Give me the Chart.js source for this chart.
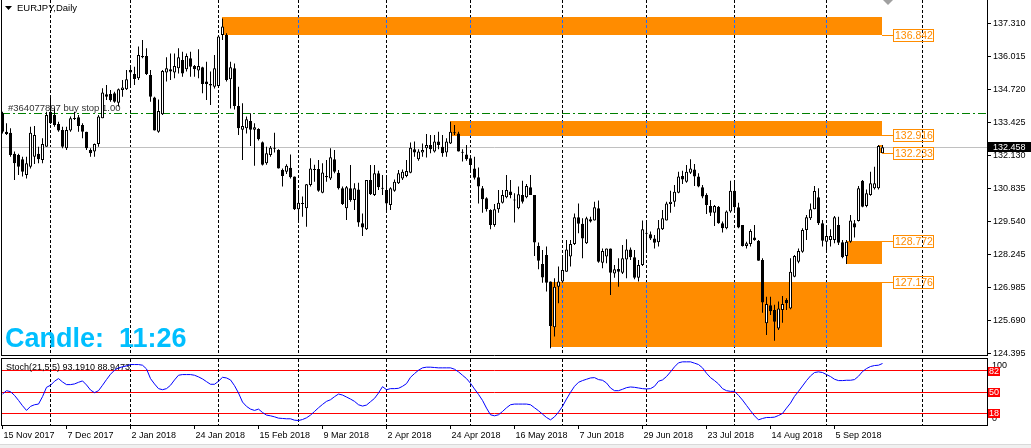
<!DOCTYPE html>
<html>
<head>
<meta charset="utf-8">
<title>EURJPY,Daily</title>
<script src="https://cdn.jsdelivr.net/npm/chart.js@4.4.1/dist/chart.umd.min.js"></script>
<style>
  html, body { margin: 0; padding: 0; background: #fff; }
  body { width: 1031px; height: 448px; position: relative; overflow: hidden; }
  #priceChart { position: absolute; left: 0; top: 0; }
  #stochChart { position: absolute; left: 0; top: 358px; }
  .frame-bottom { position: absolute; left: 0; top: 444px; width: 1031px; height: 4px; background: #f0f0f0; border-top: 1px solid #d9d9d9; }
</style>
</head>
<body>
<canvas id="priceChart" width="1031" height="358"></canvas>
<canvas id="stochChart" width="1031" height="86"></canvas>
<div class="frame-bottom"></div>
<script>
/* global Chart */

// EURJPY daily bars, 15 Nov 2017 .. 21 Sep 2018
const firstDay = '2017-11-15'
const holidays = ['2017-12-25', '2018-01-01']

const openPrices = [
  133.79, 133.07, 133.03, 132.20, 132.16, 131.99, 131.37, 131.70, 132.09, 132.20,
  131.96, 132.48, 133.85, 133.72, 133.37, 133.13, 132.42, 133.11, 133.59, 133.63,
  133.33, 133.07, 132.35, 132.29, 132.59, 133.59, 134.53, 134.54, 134.57, 134.20,
  134.70, 134.73, 135.48, 135.33, 135.16, 136.03, 136.03, 135.29, 134.41, 133.07,
  133.75, 135.38, 135.51, 135.38, 135.55, 135.87, 135.51, 135.94, 135.64, 135.46,
  135.59, 135.03, 134.93, 134.83, 134.86, 136.85, 136.85, 135.12, 135.55, 134.07,
  133.14, 133.20, 133.49, 133.14, 133.17, 132.65, 131.83, 132.16, 132.40, 132.35,
  131.57, 131.50, 131.66, 131.31, 130.03, 130.26, 130.07, 130.98, 131.61, 131.61,
  130.68, 131.33, 131.24, 131.99, 131.46, 130.85, 130.07, 130.85, 130.39, 130.81,
  129.48, 129.25, 131.18, 130.59, 131.44, 130.85, 130.79, 130.20, 130.76, 131.05,
  131.24, 131.33, 131.46, 132.38, 131.99, 132.25, 132.42, 132.55, 132.29, 132.68,
  132.48, 132.25, 132.61, 133.03, 133.00, 132.26, 132.18, 132.03, 131.63, 131.28,
  130.85, 130.46, 130.00, 129.42, 130.03, 130.29, 130.50, 130.73, 130.39, 130.07,
  130.59, 130.50, 130.89, 130.59, 128.59, 127.89, 128.24, 127.20, 125.41, 127.00,
  127.20, 127.59, 128.18, 128.67, 129.72, 129.46, 128.70, 129.64, 129.59, 130.07,
  127.94, 128.18, 128.50, 127.52, 127.69, 127.55, 128.07, 128.46, 128.15, 127.35,
  127.85, 129.09, 129.05, 128.89, 128.74, 129.25, 129.59, 130.24, 130.33, 130.68,
  131.33, 131.11, 131.46, 131.59, 131.31, 130.89, 130.59, 130.16, 129.90, 130.13,
  129.48, 129.29, 129.94, 130.76, 130.11, 129.42, 128.59, 128.67, 128.93, 128.80,
  128.05, 125.57, 126.28, 126.09, 125.37, 126.09, 126.48, 126.15, 127.39, 127.98,
  128.37, 129.22, 129.68, 130.03, 130.50, 129.48, 128.76, 128.83, 128.83, 129.42,
  128.74, 128.20, 128.76, 129.48, 129.57, 131.15, 130.16, 130.59, 130.85, 130.85,
  132.22
]
const highPrices = [
  133.85, 133.40, 133.20, 132.29, 132.20, 132.09, 132.09, 133.26, 133.29, 132.48,
  132.81, 133.85, 134.44, 133.98, 133.46, 133.26, 133.26, 133.66, 133.85, 133.72,
  133.40, 133.07, 132.42, 132.61, 133.72, 134.77, 134.90, 134.70, 134.63, 134.76,
  135.09, 135.48, 135.61, 135.61, 136.40, 136.66, 136.33, 135.48, 134.44, 134.33,
  135.48, 135.98, 136.13, 136.13, 136.33, 136.20, 136.13, 136.20, 135.68, 136.29,
  135.61, 135.81, 135.42, 136.07, 136.79, 137.50, 136.92, 135.81, 135.74, 134.83,
  134.18, 133.66, 133.79, 133.40, 133.20, 132.68, 132.48, 132.51, 133.03, 132.38,
  131.63, 131.79, 132.18, 131.31, 130.79, 130.53, 131.02, 132.03, 131.77, 131.96,
  131.83, 131.96, 132.42, 132.35, 131.57, 130.92, 130.94, 131.76, 131.05, 131.07,
  129.87, 131.18, 131.76, 131.76, 131.54, 131.37, 131.37, 130.89, 131.20, 131.57,
  131.59, 131.96, 132.64, 132.68, 132.38, 132.61, 132.98, 132.94, 132.94, 133.07,
  132.94, 132.81, 133.46, 133.33, 133.07, 132.38, 132.55, 132.16, 132.09, 131.67,
  130.94, 130.50, 130.03, 130.24, 130.79, 130.79, 131.37, 131.18, 130.66, 130.92,
  131.15, 131.02, 131.37, 130.59, 128.73, 128.44, 128.57, 127.20, 127.33, 127.79,
  128.18, 128.83, 128.83, 129.87, 130.26, 129.68, 129.74, 129.74, 130.33, 130.37,
  128.50, 128.50, 128.50, 127.85, 128.11, 128.63, 128.86, 128.54, 128.44, 128.05,
  129.59, 129.61, 129.16, 129.02, 129.61, 130.00, 130.33, 130.76, 130.98, 131.50,
  131.54, 131.76, 131.99, 131.80, 131.44, 130.98, 130.66, 130.39, 130.20, 130.16,
  129.55, 129.98, 131.15, 131.18, 130.29, 129.42, 128.76, 129.25, 129.42, 128.83,
  128.11, 126.61, 126.61, 126.29, 126.42, 126.64, 126.55, 128.11, 128.24, 128.50,
  129.29, 129.81, 130.26, 130.94, 130.85, 129.61, 129.42, 129.25, 129.77, 129.74,
  128.83, 128.83, 129.81, 129.61, 130.94, 131.18, 130.81, 131.50, 131.70, 132.55,
  132.55
]
const lowPrices = [
  133.00, 132.94, 132.09, 131.18, 131.37, 131.31, 131.24, 131.63, 131.80, 131.83,
  131.83, 132.48, 133.37, 133.26, 133.07, 132.42, 132.35, 133.07, 133.53, 133.07,
  132.81, 132.35, 132.09, 132.09, 132.48, 133.59, 134.31, 134.24, 134.20, 134.05,
  134.44, 134.70, 134.83, 134.90, 135.09, 135.94, 135.29, 134.24, 133.11, 133.03,
  133.72, 135.03, 135.09, 135.16, 135.35, 135.22, 135.42, 135.22, 135.22, 135.16,
  134.57, 134.31, 134.11, 134.76, 134.83, 136.66, 135.03, 133.98, 133.94, 132.94,
  131.96, 133.00, 132.51, 131.73, 132.72, 131.74, 131.77, 132.09, 132.25, 131.63,
  130.92, 131.41, 131.24, 130.00, 129.55, 129.74, 129.35, 130.92, 131.11, 130.72,
  130.66, 131.11, 131.18, 131.44, 130.81, 130.20, 129.61, 130.33, 130.00, 129.35,
  128.99, 129.22, 130.59, 130.55, 130.79, 130.59, 129.94, 130.00, 130.72, 131.02,
  131.18, 131.28, 131.44, 132.09, 131.93, 132.09, 132.06, 132.22, 132.25, 132.38,
  132.09, 132.09, 132.59, 132.94, 132.29, 131.90, 131.93, 131.57, 131.20, 130.26,
  129.90, 129.94, 129.25, 129.35, 129.90, 130.26, 130.46, 130.46, 129.51, 130.03,
  130.26, 130.46, 130.59, 128.20, 127.68, 127.16, 126.81, 124.59, 125.05, 126.35,
  127.16, 127.59, 127.79, 128.63, 129.09, 128.11, 128.67, 129.51, 129.59, 127.94,
  127.72, 127.92, 126.68, 127.35, 127.00, 127.50, 127.33, 128.05, 127.29, 127.20,
  127.81, 128.44, 128.83, 128.50, 128.57, 129.22, 129.59, 129.90, 130.13, 130.66,
  131.02, 131.07, 131.41, 130.94, 130.89, 130.46, 129.85, 129.77, 129.38, 129.46,
  129.12, 129.25, 129.90, 129.98, 129.29, 128.57, 128.50, 128.57, 128.80, 128.02,
  125.98, 125.11, 125.89, 124.89, 125.31, 125.59, 126.09, 126.12, 127.37, 127.92,
  128.33, 128.83, 129.61, 130.03, 129.42, 128.57, 128.40, 128.57, 128.70, 128.63,
  128.11, 127.89, 128.72, 128.93, 129.55, 130.11, 130.11, 130.56, 130.81, 130.81,
  132.20
]
const closePrices = [
  133.07, 132.98, 132.16, 131.83, 131.70, 131.50, 131.83, 133.03, 132.94, 131.99,
  132.59, 133.72, 133.40, 133.33, 133.11, 132.48, 133.13, 133.59, 133.56, 133.29,
  133.07, 132.42, 132.22, 132.59, 133.66, 134.60, 134.44, 134.30, 134.24, 134.73,
  134.80, 135.12, 135.38, 135.13, 136.07, 135.98, 135.33, 134.44, 133.11, 133.88,
  135.44, 135.55, 135.42, 135.64, 135.98, 135.35, 136.03, 135.61, 135.51, 135.64,
  134.93, 134.93, 134.88, 135.55, 136.79, 137.18, 135.09, 135.59, 134.07, 133.20,
  133.29, 133.55, 133.14, 133.24, 132.77, 131.77, 132.22, 132.44, 132.42, 131.63,
  131.33, 131.73, 131.28, 130.03, 130.29, 130.24, 131.01, 131.63, 131.57, 130.76,
  131.47, 131.28, 132.07, 131.50, 130.85, 130.24, 130.89, 130.39, 130.85, 129.51,
  129.32, 131.18, 130.62, 131.44, 130.89, 130.83, 130.26, 130.85, 131.11, 131.44,
  131.50, 131.53, 132.44, 132.25, 132.29, 132.35, 132.55, 132.38, 132.68, 132.55,
  132.22, 132.68, 133.07, 133.01, 132.29, 132.24, 131.99, 131.76, 131.27, 130.92,
  130.42, 130.03, 129.42, 130.03, 130.29, 130.59, 130.79, 130.59, 130.37, 130.62,
  130.33, 130.94, 130.59, 128.73, 128.02, 127.36, 127.16, 125.46, 127.00, 127.20,
  127.65, 128.46, 128.67, 129.72, 129.46, 128.89, 129.68, 129.55, 130.11, 127.98,
  128.40, 128.50, 127.55, 127.68, 127.59, 128.11, 128.46, 128.15, 127.35, 127.85,
  129.25, 129.07, 128.89, 128.72, 129.29, 129.68, 130.26, 130.33, 130.72, 131.31,
  131.20, 131.50, 131.63, 131.31, 130.92, 130.53, 130.20, 129.90, 130.16, 129.48,
  129.29, 129.94, 130.76, 130.11, 129.32, 128.59, 128.70, 129.18, 128.83, 128.02,
  126.38, 126.32, 126.04, 125.63, 126.15, 126.32, 126.35, 127.59, 128.20, 128.40,
  129.22, 129.72, 130.03, 130.75, 129.48, 128.80, 128.99, 128.99, 129.72, 128.72,
  128.15, 128.76, 129.59, 129.32, 130.85, 130.13, 130.66, 131.05, 131.05, 132.51,
  132.458
]
// Stoch(21,5,5) main line
const stochMain = [
  46.9, 52.0, 50.5, 44.9, 37.3, 29.2, 22.1, 28.2, 30.7, 31.7,
  42.9, 57.1, 60.2, 66.3, 70.3, 65.2, 61.2, 61.2, 62.2, 64.7,
  66.8, 60.7, 53.0, 49.0, 52.0, 60.2, 68.8, 76.9, 83.0, 86.6,
  88.1, 89.6, 91.6, 91.6, 91.6, 90.6, 85.0, 70.3, 62.2, 55.1,
  53.5, 55.1, 60.2, 68.3, 75.4, 76.4, 76.4, 76.4, 75.4, 72.9,
  69.8, 65.7, 61.7, 61.7, 66.3, 72.3, 71.3, 68.3, 59.6, 48.5,
  34.8, 28.2, 24.1, 22.1, 24.1, 19.0, 15.0, 13.9, 12.4, 10.4,
  9.9, 9.4, 9.4, 7.3, 6.8, 8.3, 10.9, 15.0, 20.5, 26.1,
  31.2, 35.8, 38.3, 42.9, 46.9, 45.4, 42.4, 39.3, 35.8, 30.7,
  28.7, 30.2, 35.3, 40.3, 48.5, 58.1, 53.5, 55.1, 55.1, 55.6,
  58.6, 62.7, 72.3, 77.9, 83.0, 86.6, 87.6, 87.6, 87.1, 86.6,
  86.6, 86.6, 86.6, 84.5, 80.5, 75.4, 70.3, 63.2, 54.6, 46.4,
  37.3, 25.6, 15.5, 13.9, 15.5, 20.5, 26.1, 30.7, 31.7, 31.7,
  31.7, 31.7, 30.7, 26.1, 21.6, 16.5, 11.4, 7.8, 12.4, 19.5,
  28.2, 39.3, 49.5, 58.6, 64.7, 67.3, 69.3, 71.3, 71.8, 68.8,
  67.8, 63.7, 56.1, 52.0, 52.0, 54.1, 56.6, 57.6, 57.1, 56.1,
  55.1, 54.6, 55.1, 58.6, 66.3, 68.3, 73.4, 80.5, 88.1, 94.2,
  95.7, 95.7, 95.7, 93.7, 91.6, 86.6, 78.4, 71.8, 67.3, 62.2,
  55.1, 52.0, 51.0, 51.0, 44.9, 37.8, 29.7, 21.6, 13.9, 7.8,
  9.9, 11.4, 11.4, 11.9, 14.4, 17.5, 25.6, 33.2, 43.4, 51.0,
  59.1, 67.3, 74.4, 79.5, 80.5, 79.5, 76.4, 73.4, 69.3, 67.3,
  67.3, 67.8, 67.8, 68.8, 73.9, 81.0, 85.5, 88.6, 90.1, 90.6,
  93.2
]

const priceTicks = [137.310, 136.015, 134.720, 133.425, 132.130, 130.835, 129.540, 128.245, 126.985, 125.690, 124.395]
const stochLevels = [18, 50, 82]
const dateLabelBars = [0, 16, 32, 48, 64, 80, 96, 112, 128, 144, 160, 176, 192, 208]
const monthGridBars = [12, 32, 54, 74, 96, 117, 140, 161, 183, 206, 230]

// supply / demand rectangles: first bar, top and bottom price
const zoneFrom = [55, 112, 211, 137, 219]
const zoneTop = [137.56, 133.49, 128.772, 127.176, 132.55]
const zoneBottom = [136.842, 132.916, 127.89, 124.65, 132.233]
const levelLabels = [136.842, 132.916, 132.233, 128.772, 127.176]
const bidPrice = 132.458
const orderPrice = 133.79

const lastBar = closePrices.length - 1
const X_MIN = -0.125
const X_MAX = 246.125
const MONTHS = ['Jan', 'Feb', 'Mar', 'Apr', 'May', 'Jun', 'Jul', 'Aug', 'Sep', 'Oct', 'Nov', 'Dec']
const FONT = '"Liberation Sans", Arial, sans-serif'

function tradingDays (start, count) {
  const days = []
  const d = new Date(start + 'T00:00:00Z')
  while (days.length < count) {
    const iso = d.toISOString().slice(0, 10)
    const wd = d.getUTCDay()
    if (wd !== 0 && wd !== 6 && !holidays.includes(iso)) days.push(new Date(d))
    d.setUTCDate(d.getUTCDate() + 1)
  }
  return days
}
const barDates = tradingDays(firstDay, closePrices.length)
const fmtDate = d => d.getUTCDate() + ' ' + MONTHS[d.getUTCMonth()] + ' ' + d.getUTCFullYear()

const crisp = v => Math.floor(v) + 0.5
function strokeLine (ctx, x1, y1, x2, y2) {
  ctx.beginPath()
  ctx.moveTo(x1, y1)
  ctx.lineTo(x2, y2)
  ctx.stroke()
}

Chart.defaults.font.family = FONT
Chart.defaults.font.size = 9
Chart.defaults.color = '#000'

const priceDecor = {
  id: 'priceDecor',
  beforeDatasetsDraw (chart) {
    const { ctx, chartArea: area, scales: { x, y } } = chart
    const right = Math.floor(x.getPixelForValue(lastBar))
    ctx.save()
    ctx.fillStyle = '#ff8c00'
    const boxes = zoneFrom.map((from, k) => {
      const left = Math.floor(x.getPixelForValue(from))
      const top = Math.round(y.getPixelForValue(zoneTop[k]))
      const bottom = Math.round(y.getPixelForValue(zoneBottom[k]))
      ctx.fillRect(left, top, right - left, bottom - top)
      return { left, top, bottom }
    })

    // month separators, blue where they cross a rectangle
    ctx.lineWidth = 1
    ctx.setLineDash([3, 2])
    monthGridBars.forEach(bar => {
      const px = crisp(x.getPixelForValue(bar))
      ctx.strokeStyle = '#000'
      ctx.lineDashOffset = 0
      strokeLine(ctx, px, area.top, px, area.bottom)
      boxes.forEach(b => {
        if (px > b.left && px < right) {
          ctx.strokeStyle = '#1a6cff'
          ctx.lineDashOffset = b.top - area.top
          strokeLine(ctx, px, b.top, px, b.bottom)
        }
      })
    })
    ctx.lineDashOffset = 0

    // bid line
    ctx.setLineDash([])
    ctx.strokeStyle = '#c0c0c0'
    const bidY = crisp(y.getPixelForValue(bidPrice))
    strokeLine(ctx, area.left, bidY, area.right, bidY)

    // pending order
    const ordY = crisp(y.getPixelForValue(orderPrice))
    ctx.strokeStyle = '#008000'
    ctx.setLineDash([8, 3, 2, 3])
    strokeLine(ctx, area.left, ordY, area.right, ordY)
    ctx.setLineDash([])
    ctx.fillStyle = '#333'
    ctx.font = '9.5px ' + FONT
    ctx.textBaseline = 'middle'
    ctx.fillText('#364077897 buy stop 1.00', 8, ordY - 5)
    ctx.restore()
  },
  afterDatasetsDraw (chart) {
    const { ctx, chartArea: area, scales: { x, y } } = chart
    const right = Math.floor(x.getPixelForValue(lastBar))
    ctx.save()
    ctx.strokeStyle = '#000'
    ctx.lineWidth = 1
    strokeLine(ctx, 1.5, 0, 1.5, area.bottom + 1)
    strokeLine(ctx, area.right + 0.5, 0, area.right + 0.5, area.bottom + 1)
    strokeLine(ctx, 1, area.bottom + 0.5, area.right + 1, area.bottom + 0.5)

    // level price tags
    ctx.font = '10.5px ' + FONT
    ctx.textBaseline = 'middle'
    levelLabels.forEach(v => {
      const yc = crisp(y.getPixelForValue(v))
      ctx.strokeStyle = '#ff8c00'
      strokeLine(ctx, right, yc, 893, yc)
      ctx.strokeRect(893.5, yc - 6, 40, 12)
      ctx.fillStyle = '#ff8c00'
      ctx.fillText(v.toFixed(3), 895, yc + 0.5)
    })

    // bid tag on the price scale
    const by = Math.round(y.getPixelForValue(bidPrice))
    ctx.fillStyle = '#000'
    ctx.fillRect(area.right + 1, by - 5, 1031 - area.right - 1, 10)
    ctx.fillStyle = '#fff'
    ctx.font = '9px ' + FONT
    ctx.fillText(bidPrice.toFixed(3), area.right + 6, by + 0.5)

    // title
    ctx.fillStyle = '#000'
    ctx.beginPath()
    ctx.moveTo(5, 6)
    ctx.lineTo(12, 6)
    ctx.lineTo(8.5, 10)
    ctx.closePath()
    ctx.fill()
    ctx.font = '9.5px ' + FONT
    ctx.fillText('EURJPY,Daily', 17, 8.5)

    // chart shift marker
    ctx.fillStyle = '#a0a0a0'
    ctx.beginPath()
    ctx.moveTo(883, 0)
    ctx.lineTo(893, 0)
    ctx.lineTo(888, 5)
    ctx.closePath()
    ctx.fill()

    // candle timer
    ctx.fillStyle = '#00bfff'
    ctx.font = 'bold 27px ' + FONT
    ctx.textBaseline = 'alphabetic'
    ctx.fillText('Candle:  11:26', 5, 347)
    ctx.restore()
  }
}

const stochDecor = {
  id: 'stochDecor',
  beforeDatasetsDraw (chart) {
    const { ctx, chartArea: area, scales: { x } } = chart
    ctx.save()
    ctx.lineWidth = 1
    ctx.strokeStyle = '#000'
    ctx.setLineDash([3, 2])
    monthGridBars.forEach(bar => {
      const px = crisp(x.getPixelForValue(bar))
      strokeLine(ctx, px, area.top, px, area.bottom)
    })
    ctx.setLineDash([])
    ctx.fillStyle = '#000'
    ctx.font = '9px ' + FONT
    ctx.textBaseline = 'middle'
    ctx.fillText('Stoch(21,5,5) 93.1910 88.9473', 6, 9.7)
    ctx.restore()
  },
  afterDatasetsDraw (chart) {
    const { ctx, chartArea: area, scales: { y } } = chart
    ctx.save()
    ctx.strokeStyle = '#000'
    ctx.lineWidth = 1
    ctx.strokeRect(1.5, 0.5, area.right - 1, area.bottom)
    ctx.fillStyle = '#000'
    ctx.font = '9px ' + FONT
    ctx.textBaseline = 'middle'
    ctx.fillText('100', area.right + 5, 7.5)
    ctx.fillText('0', area.right + 5, 60.3)
    stochLevels.forEach(v => {
      const yc = Math.round(y.getPixelForValue(v))
      ctx.fillStyle = '#ff0000'
      ctx.fillRect(area.right + 1, yc - 4, 12, 9)
      ctx.fillStyle = '#fff'
      ctx.textAlign = 'center'
      ctx.fillText(String(v), area.right + 7, yc + 0.5)
    })
    ctx.restore()
  }
}

// eslint-disable-next-line no-unused-vars
const priceChart = new Chart(document.getElementById('priceChart'), {
  type: 'bar',
  data: {
    datasets: [
      {
        label: 'body',
        data: closePrices.map((c, i) => ({ x: i, y: [openPrices[i], c] })),
        backgroundColor: (ctx) => {
          const i = ctx.dataIndex
          if (i === undefined) return '#000'
          return closePrices[i] >= openPrices[i] ? '#ffffff' : '#000000'
        },
        borderColor: '#000',
        borderWidth: 1,
        borderSkipped: false,
        barThickness: 3,
        minBarLength: 1,
        grouped: false,
        inflateAmount: 0,
        order: 0
      },
      {
        label: 'wick',
        data: highPrices.map((h, i) => ({ x: i, y: [lowPrices[i], h] })),
        backgroundColor: '#000',
        borderWidth: 0,
        barThickness: 1,
        grouped: false,
        inflateAmount: 0,
        order: 1
      }
    ]
  },
  options: {
    responsive: false,
    animation: false,
    devicePixelRatio: 1,
    events: [],
    layout: { autoPadding: false, padding: { left: 2, top: 0, right: 0, bottom: 3 } },
    plugins: { legend: { display: false }, tooltip: { enabled: false } },
    scales: {
      x: { type: 'linear', min: X_MIN, max: X_MAX, offset: false, display: false },
      y: {
        position: 'right',
        min: 124.328,
        max: 138.222,
        afterBuildTicks: (s) => { s.ticks = priceTicks.map(v => ({ value: v })) },
        afterFit: (s) => {
          s.width = 44
          s.paddingTop = 0
          s.paddingBottom = 0
          s.paddingLeft = 0
          s.paddingRight = 0
        },
        ticks: { padding: 2, color: '#000', font: { size: 9 }, callback: v => Number(v).toFixed(3) },
        grid: { drawOnChartArea: false, drawTicks: true, tickLength: 4, color: '#000' },
        border: { display: false }
      }
    }
  },
  plugins: [priceDecor]
})

// eslint-disable-next-line no-unused-vars
const stochChart = new Chart(document.getElementById('stochChart'), {
  type: 'line',
  data: {
    datasets: [
      {
        label: 'Stoch',
        data: stochMain.map((v, i) => ({ x: i, y: v })),
        borderColor: '#0000ff',
        borderWidth: 1,
        pointRadius: 0,
        tension: 0,
        fill: false
      }
    ]
  },
  options: {
    responsive: false,
    animation: false,
    devicePixelRatio: 1,
    events: [],
    layout: { autoPadding: false, padding: { left: 2, top: 1, right: 0, bottom: 0 } },
    plugins: { legend: { display: false }, tooltip: { enabled: false } },
    scales: {
      x: {
        type: 'linear',
        min: X_MIN,
        max: X_MAX,
        offset: false,
        afterBuildTicks: (s) => { s.ticks = dateLabelBars.map(v => ({ value: v })) },
        afterFit: (s) => {
          s.height = 19
          s.paddingLeft = 0
          s.paddingRight = 0
          s.paddingTop = 0
          s.paddingBottom = 0
        },
        ticks: {
          autoSkip: false,
          maxRotation: 0,
          minRotation: 0,
          align: 'start',
          labelOffset: 1,
          padding: 1,
          color: '#000',
          font: { size: 9 },
          callback: v => fmtDate(barDates[v])
        },
        grid: { drawOnChartArea: false, drawTicks: true, tickLength: 4, color: '#000' },
        border: { display: false }
      },
      y: {
        position: 'right',
        min: 0,
        max: 100,
        afterBuildTicks: (s) => { s.ticks = stochLevels.map(v => ({ value: v })) },
        afterFit: (s) => {
          s.width = 44
          s.paddingTop = 0
          s.paddingBottom = 0
        },
        ticks: { display: false },
        grid: { color: '#ff0000', drawTicks: false },
        border: { display: false }
      }
    }
  },
  plugins: [stochDecor]
})
</script>
</body>
</html>
